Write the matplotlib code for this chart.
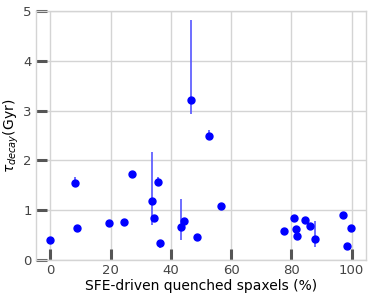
import numpy as np
import matplotlib
matplotlib.use("Agg")
import matplotlib.pyplot as plt

# fraction of SFE-driven quenched spaxels (%)
frac = [0.0, 8.1, 8.9, 19.4, 24.5, 27.0, 33.7, 34.4, 35.6, 36.4,
        43.4, 44.2, 46.7, 48.8, 52.6, 56.8, 77.5, 81.0, 81.5, 81.9,
        84.7, 86.3, 87.8, 97.2, 98.4, 99.7]
# decay time (Gyr)
tau = [0.41, 1.55, 0.64, 0.75, 0.76, 1.72, 1.18, 0.84, 1.56, 0.35,
       0.67, 0.78, 3.21, 0.47, 2.49, 1.09, 0.59, 0.84, 0.62, 0.48,
       0.81, 0.69, 0.43, 0.91, 0.29, 0.64]
err_lo = [0.02, 0.03, 0.02, 0.02, 0.02, 0.02, 0.48, 0.03, 0.03, 0.10,
          0.27, 0.03, 0.28, 0.02, 0.04, 0.02, 0.02, 0.02, 0.02, 0.02,
          0.02, 0.02, 0.16, 0.02, 0.02, 0.03]
err_hi = [0.02, 0.12, 0.02, 0.02, 0.02, 0.02, 0.99, 0.03, 0.11, 0.02,
          0.56, 0.03, 1.61, 0.02, 0.13, 0.02, 0.02, 0.02, 0.06, 0.02,
          0.02, 0.02, 0.35, 0.02, 0.02, 0.03]

fig = plt.figure(figsize=(3.73, 2.98), dpi=100)
ax = fig.add_axes([36/373, 38/298, 330/373, 249/298])

ax.errorbar(frac, tau, yerr=[err_lo, err_hi], fmt='o', color='blue',
            ms=5, ecolor='#5555ff', elinewidth=1.2, capsize=0, zorder=3)

ax.set_xlim(-4.8, 104.8)
ax.set_ylim(0, 5)
ax.set_xticks([0, 20, 40, 60, 80, 100])
ax.set_yticks([0, 1, 2, 3, 4, 5])
ax.grid(True, color='#d4d4d4', lw=1)
ax.set_axisbelow(True)
for s in ax.spines.values():
    s.set_color('#d4d4d4')
    s.set_linewidth(1)
ax.tick_params(direction='in', length=8, width=2.2, color='#555555',
               labelcolor='#444444', labelsize=9.5, pad=3)
ax.set_xlabel('SFE-driven quenched spaxels (%)', fontsize=10, labelpad=1)
ax.set_ylabel(r'$\tau_{decay}$(Gyr)', fontsize=10, labelpad=2)

fig.savefig('out.png', dpi=100)
